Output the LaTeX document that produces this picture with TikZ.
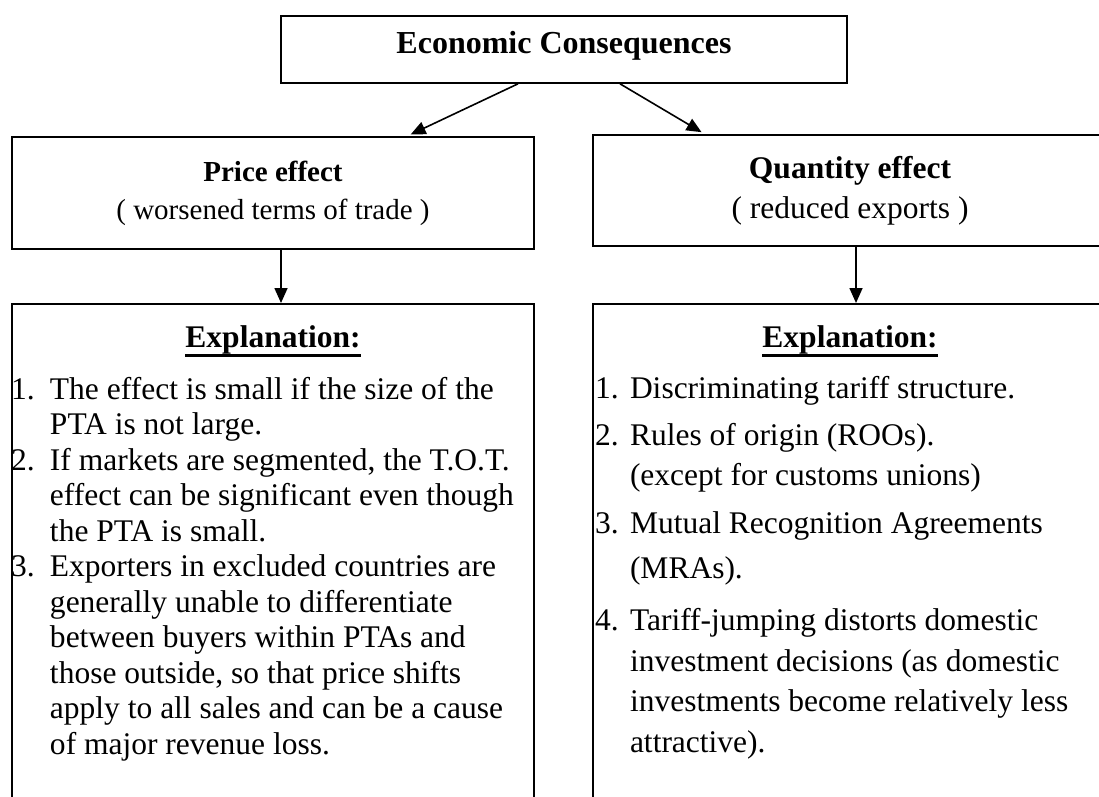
\documentclass[tikz,border=0pt]{standalone}
\usepackage{fontspec}
\setmainfont{Liberation Serif}
\usetikzlibrary{arrows.meta,positioning}
\newcommand{\ulhead}[1]{\setbox0\hbox{#1}\rlap{\rule[-9.5pt]{\wd0}{2.2pt}}\box0}

\begin{document}
\begin{tikzpicture}[x=1pt,y=1pt,line width=1.6pt,>={Triangle[length=15pt,width=13pt]},
	box/.style={draw,rectangle,inner sep=0pt,align=center},
	head/.style={inner sep=0pt,anchor=base,font=\fontsize{31.5}{38}\selectfont\bfseries},
	list/.style={inner sep=0pt,anchor=base west,font=\fontsize{31.5}{35.5}\selectfont}]
	\useasboundingbox (0,0) rectangle (1099,-796);
	\clip (0,0) rectangle (1099,-796);
	\node[box,minimum width=566,minimum height=67,text height=22pt,text depth=15pt,font=\fontsize{32}{38}\selectfont\bfseries] (econ) at (564,-49.5) {Economic Consequences};
	\node[box,minimum width=522,minimum height=112,font=\fontsize{29}{38}\selectfont] (price) at (273,-193) {\textbf{Price effect}\\( worsened terms of trade )};
	\node[box,minimum width=514,minimum height=111,font=\fontsize{31.5}{40}\selectfont] (quantity) at (850,-190.5) {\textbf{Quantity effect}\\( reduced exports )};
	\node[box,minimum width=522,minimum height=600,anchor=north] (priceexpl) at (273,-303) {};
	\node[box,minimum width=514,minimum height=600,anchor=north] (quantexpl) at (850,-303) {};
	%\draw (econ) -- (price);
	\draw[->,shorten >=4pt] ([xshift=-46]econ.south) -- ([xshift=134]price.north);
	\draw[->,shorten >=4pt] ([xshift=56]econ.south) -- ([xshift=-145]quantity.north);
	\draw[->] ([xshift=8]price.south) -- ([xshift=8]priceexpl.north);
	\draw[->] ([xshift=6]quantity.south) -- ([xshift=6]quantexpl.north);
	\node[head] (pricehead) at ([yshift=-44]priceexpl.north) {\ulhead{Explanation:}};
	\node[head] (quanthead) at ([yshift=-44]quantexpl.north) {\ulhead{Explanation:}};
	\node[list] (pricelist) at ([xshift=-1,yshift=-96]priceexpl.north west) {\begin{tabular}[t]{@{}p{39pt}@{}l@{}}
		1. & The effect is small if the size of the\\
		& PTA is not large.\\
		2. & If markets are segmented, the T.O.T.\\
		& effect can be significant even though\\
		& the PTA is small.\\
		3. & Exporters in excluded countries are\\
		& generally unable to differentiate\\
		& between buyers within PTAs and\\
		& those outside, so that price shifts\\
		& apply to all sales and can be a cause\\
		& of major revenue loss.
	\end{tabular}};
	\node[list,font=\fontsize{31.5}{40.5}\selectfont] (quantlist) at ([xshift=2,yshift=-95]quantexpl.north west) {\begin{tabular}[t]{@{}p{35pt}@{}l@{}}
		1. & Discriminating tariff structure.\\[6.5pt]
		2. & Rules of origin (ROOs).\\
		& (except for customs unions)\\[7.5pt]
		3. & Mutual Recognition Agreements\\[4.5pt]
		& (MRAs).\\[11.5pt]
		4. & Tariff-jumping distorts domestic\\
		& investment decisions (as domestic\\
		& investments become relatively less\\
		& attractive).
	\end{tabular}};
\end{tikzpicture}
\end{document}
